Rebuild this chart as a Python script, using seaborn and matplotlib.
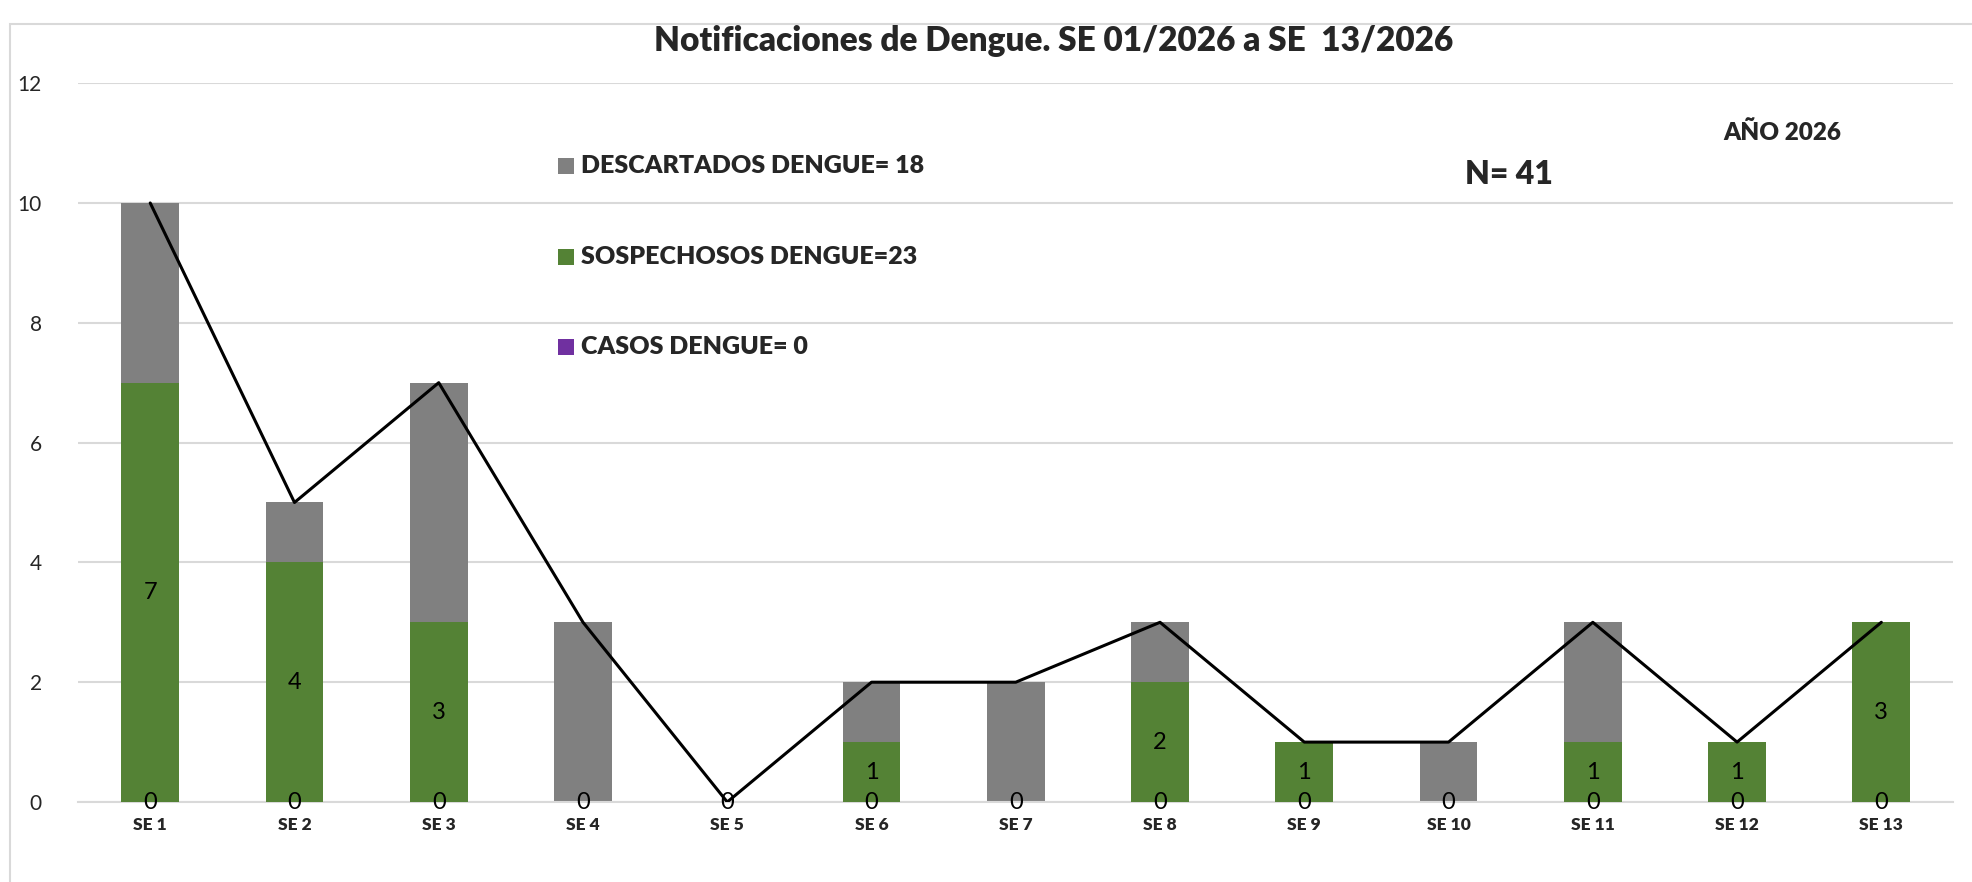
import matplotlib
matplotlib.use("Agg")
import matplotlib.pyplot as plt
import seaborn as sns
import numpy as np
from matplotlib.patches import Rectangle

# data
semanas = ["SE 1", "SE 2", "SE 3", "SE 4", "SE 5", "SE 6", "SE 7",
           "SE 8", "SE 9", "SE 10", "SE 11", "SE 12", "SE 13"]
descartados = [3, 1, 4, 3, 0, 1, 2, 1, 0, 1, 2, 0, 0]
sospechosos = [7, 4, 3, 0, 0, 1, 0, 2, 1, 0, 1, 1, 3]
casos = [0, 0, 0, 0, 0, 0, 0, 0, 0, 0, 0, 0, 0]
totales = [d + s + c for d, s, c in zip(descartados, sospechosos, casos)]

GRIS = "#808080"
VERDE = "#548235"
MORADO = "#7030A0"

sns.set_theme(style="white")
plt.rcParams["font.family"] = ["Lato", "DejaVu Sans"]

fig = plt.figure(figsize=(19.72, 8.82), dpi=100)
ax = fig.add_axes([0.0396, 0.0907, 0.951, 0.815])

# outer frame like the spreadsheet chart area
fig.patches.append(Rectangle((10 / 1972, -0.1), 2.0, (870 - 12) / 882 + 0.1,
                             transform=fig.transFigure, fill=False,
                             edgecolor="#d9d9d9", linewidth=1.5, zorder=0))

# stacked bars: totals in gray, suspects on top of base in green, cases (zero)
sns.barplot(x=semanas, y=totales, color=GRIS, saturation=1, width=0.4, ax=ax,
            edgecolor="none", zorder=2)
sns.barplot(x=semanas, y=sospechosos, color=VERDE, saturation=1, width=0.4, ax=ax,
            edgecolor="none", zorder=3)
sns.barplot(x=semanas, y=casos, color=MORADO, saturation=1, width=0.4, ax=ax,
            edgecolor="none", zorder=4)

cont_verde = ax.containers[1]
cont_casos = ax.containers[2]
ax.bar_label(cont_verde, labels=[str(v) if v > 0 else "" for v in sospechosos],
             label_type="center", fontsize=17, color="black", zorder=6)
ax.bar_label(cont_casos, labels=[str(v) for v in casos],
             label_type="center", fontsize=17, color="black", zorder=6)

# total line
sns.lineplot(x=np.arange(len(semanas)), y=totales, color="black", linewidth=2.2,
             ax=ax, zorder=5)

ax.set_ylim(0, 12)
ax.set_xlim(-0.5, len(semanas) - 0.5)
ax.set_yticks(range(0, 13, 2))
ax.yaxis.grid(True, color="#d9d9d9", linewidth=1.5)
ax.set_axisbelow(True)
for s in ["left", "right", "top"]:
    ax.spines[s].set_visible(False)
ax.spines["bottom"].set_color("#d9d9d9")
ax.spines["bottom"].set_linewidth(1.5)
ax.tick_params(axis="y", length=0, labelsize=15, pad=26)
ax.tick_params(axis="x", length=0, labelsize=12.5, pad=11)
for t in ax.get_xticklabels():
    t.set_fontweight("heavy")
ax.set_xlabel("")
ax.set_ylabel("")

fig.text(0.5345, 0.953, "Notificaciones de Dengue. SE 01/2026 a SE  13/2026",
         ha="center", va="center", fontsize=24, fontweight="heavy")

# legend-like labels
leyenda = [("DESCARTADOS DENGUE= 18", GRIS, 166),
           ("SOSPECHOSOS DENGUE=23", VERDE, 257),
           ("CASOS DENGUE= 0", MORADO, 347)]
for texto, col, ypix in leyenda:
    yf = 1 - ypix / 882
    fig.patches.append(Rectangle((558 / 1972, yf - 8 / 882), 16 / 1972, 16 / 882,
                                 transform=fig.transFigure, facecolor=col,
                                 edgecolor="none"))
    fig.text(581 / 1972, yf, texto, ha="left", va="center", fontsize=18,
             fontweight="heavy")

fig.text(1465 / 1972, 1 - 175 / 882, "N= 41", ha="left", va="center",
         fontsize=23, fontweight="heavy")
fig.text(1723 / 1972, 1 - 133 / 882, "AÑO 2026", ha="left", va="center",
         fontsize=17.5, fontweight="heavy")

fig.savefig("out.png", dpi=100)
